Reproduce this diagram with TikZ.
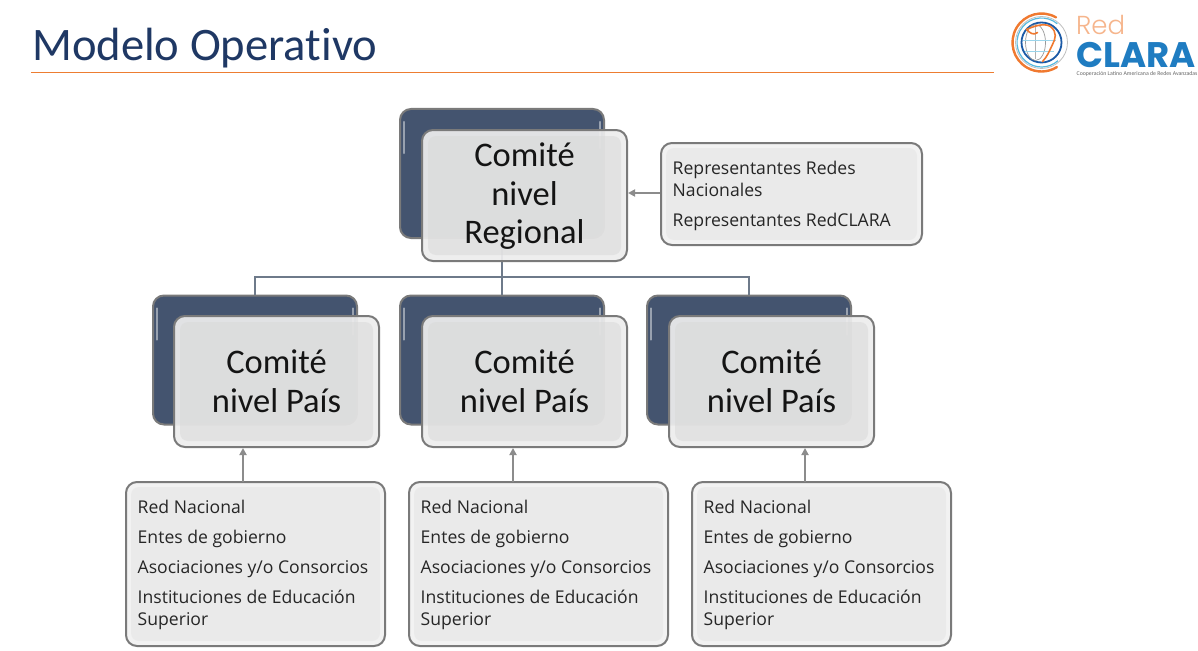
\documentclass[tikz,border=0pt]{standalone}
\usepackage{fontspec}
\setmainfont{Carlito}
\newfontfamily\smallf{Open Sans}
\newfontfamily\logof{Poppins}
\newfontfamily\logolight{Poppins Light}
\newfontfamily\titlef[Ligatures=NoCommon]{Carlito}
\usetikzlibrary{arrows.meta,calc}
\definecolor{navy}{HTML}{1F3864}
\definecolor{lineor}{HTML}{ED7D31}
\definecolor{backblue}{HTML}{44546F}
\definecolor{edgegray}{HTML}{7A7A7A}
\definecolor{connblue}{HTML}{6E7A8A}
\definecolor{arrgray}{HTML}{8C8C8C}
\definecolor{logoblue}{HTML}{1F7CC1}
\definecolor{logoor}{HTML}{F0792F}
\definecolor{logolt}{HTML}{F6B58C}
\definecolor{logocy}{HTML}{58B9DE}
\definecolor{logodk}{HTML}{1B5AA6}
\tikzset{
 x=1pt,y=-1pt,
 backbox/.style={draw=edgegray,line width=2pt,fill=backblue,rounded corners=11pt,minimum width=204pt,minimum height=129pt,inner sep=0pt},
 frontbox/.style={draw=edgegray,line width=2pt,fill=black!7,fill opacity=.93,rounded corners=11pt,minimum width=205pt,inner sep=0pt,text=black!92,text opacity=1,font=\fontsize{34.5}{38.5}\selectfont,align=center},
 inset/.style={fill=black!15,fill opacity=.55,rounded corners=8pt,inner sep=0pt},
 infobox/.style={draw=edgegray,line width=2pt,fill=black!5,rounded corners=11pt,inner sep=0pt},
 infotext/.style={anchor=north west,inner sep=0pt,align=left,text=black!85,font=\smallf\fontsize{17.6}{22}\selectfont},
 conn/.style={draw=connblue,line width=1.5pt},
 arr/.style={draw=arrgray,line width=1.8pt,-{Triangle[length=7pt,width=7pt]}},
 title/.style={anchor=base west,inner sep=0pt,text=navy,font=\titlef\fontsize{46.6}{50}\selectfont},
 glint/.style={draw=white,draw opacity=.45,line width=2.5pt,line cap=round},
}
\newcommand{\backb}[3]{% name, x center, y center
 \node[backbox] (#1) at (#2,#3) {};
 \draw[glint] ($(#1.north west)+(5,14)$) -- ($(#1.north west)+(5,45)$);
 \draw[glint] ($(#1.north east)+(-5,14)$) -- ($(#1.north east)+(-5,40)$);
}
\newcommand{\frontb}[6]{% name, x, y, height, text offset, text
 \node[frontbox,minimum height=#4pt] (#1) at (#2,#3) {};
 \node[inset,minimum width=193pt,minimum height=#4pt-12pt] at (#1.center) {};
 \node[frontbox,draw=none,fill=none,minimum height=#4pt] (#1t) at ($(#1.center)+(0,#5)$) {#6};
}
\newcommand{\infob}[6]{% name,x1,y1,x2,y2,text
 \node[infobox,minimum width=#4pt-#2pt,minimum height=#5pt-#3pt] (#1) at ({(#2+#4)/2},{(#3+#5)/2}) {};
 \node[inset,fill opacity=.3,minimum width=#4pt-#2pt-10pt,minimum height=#5pt-#3pt-10pt] at (#1.center) {};
 \node[infotext] (#1t) at ($(#1.north west)+(12.5,18.5)$) {#6};
}
\newcommand{\cols}{Red Nacional\\[8pt]Entes de gobierno\\[8pt]Asociaciones y/o Consorcios\\[8pt]Instituciones de Educación\\Superior}
\begin{document}
\begin{tikzpicture}
\useasboundingbox (0,0) rectangle (1198,650);
\fill[white] (0,0) rectangle (1198,650);
% title
\node[title] (ttl) at (32,61) {Modelo Operat{}ivo};
\coordinate (la) at (31,72.5);
\coordinate (lb) at (994,72.5);
\draw[lineor,line width=1.2pt] (la) -- (lb);
% logo
\begin{scope}[shift={(1041.5,42.5)}]
 \draw[logoor,line width=2.4pt,line cap=round] (0,0) ++(300:29) arc[start angle=300,end angle=58,radius=29];
 \draw[black!25,line width=.8pt] (0,0) circle[radius=26];
 \draw[logocy,line width=1.2pt] (0,0) ++(310:24.5) arc[start angle=310,end angle=48,radius=24.5];
 \draw[logodk,line width=1.8pt] (0,0) circle[radius=20];
 \draw[black!40,line width=.7pt] (-6,0) ellipse[x radius=10,y radius=18];
 \draw[black!30,line width=.7pt] (-6,-17) -- (-6,17);
 \draw[logocy!60,line width=.6pt] (-19,-2) -- (14,-2);
 \draw[logocy!60,line width=.6pt] (-17,9) -- (12,9);
 \draw[logoor,line width=1.6pt,line cap=round,line join=round] (-15,-13) .. controls (-8,-16) and (2,-20) .. (9,-16) .. controls (16,-10) and (14,-4) .. (11,2) .. controls (8,8) and (6,14) .. (1,19);
 \draw[logoor,line width=1.6pt,line cap=round] (-15,-13) .. controls (-11,-9) and (-8,-7) .. (-4,-10);
\end{scope}
\node[anchor=base west,inner sep=0pt,text=logolt,font=\logolight\fontsize{26}{26}\selectfont] (lred) at (1076,35) {Red};
\node[anchor=base west,inner sep=0pt,text=logoblue,font=\logof\bfseries\fontsize{35.5}{36}\selectfont] (lclara) at (1076,68) {CLARA};
\node[anchor=base west,inner sep=0pt,text=black!60,font=\fontsize{5.8}{7}\selectfont] (lsub) at (1076.5,76) {Cooperación Latino Americana de Redes Avanzadas};
% back boxes
\backb{rb}{502}{173.5}
\backb{pa}{255}{360}
\backb{pb}{502}{360}
\backb{pc}{749}{360}
% tree connectors
\coordinate (bus) at (502,277);
\draw[conn] (rb.south) -- (pb.north);
\draw[conn] (pa.north) |- (bus) -| (pc.north);
% front boxes
\frontb{rf}{524.5}{195.5}{131}{1}{Comité\\nivel\\Regional}
\frontb{fa}{276.5}{381.5}{131}{0}{Comité\\nivel País}
\frontb{fb}{524.5}{381.5}{131}{0}{Comité\\nivel País}
\frontb{fc}{771.5}{381.5}{131}{0}{Comité\\nivel País}
% info boxes
\infob{rep}{661}{143}{922}{245}{Representantes Redes\\Nacionales\\[8pt]Representantes RedCLARA}
\infob{ia}{126}{482}{385}{646}{\cols}
\infob{ib}{409}{482}{668}{646}{\cols}
\infob{ic}{692}{482}{951}{646}{\cols}
% arrows
\draw[arr] (rep.west |- 0,193) coordinate (ra) -- (rf.east |- ra);
\coordinate (aa) at (243,482);
\coordinate (ab) at (513,482);
\coordinate (ac) at (805,482);
\draw[arr] (aa) -- (aa |- fa.south);
\draw[arr] (ab) -- (ab |- fb.south);
\draw[arr] (ac) -- (ac |- fc.south);
\end{tikzpicture}
\end{document}
